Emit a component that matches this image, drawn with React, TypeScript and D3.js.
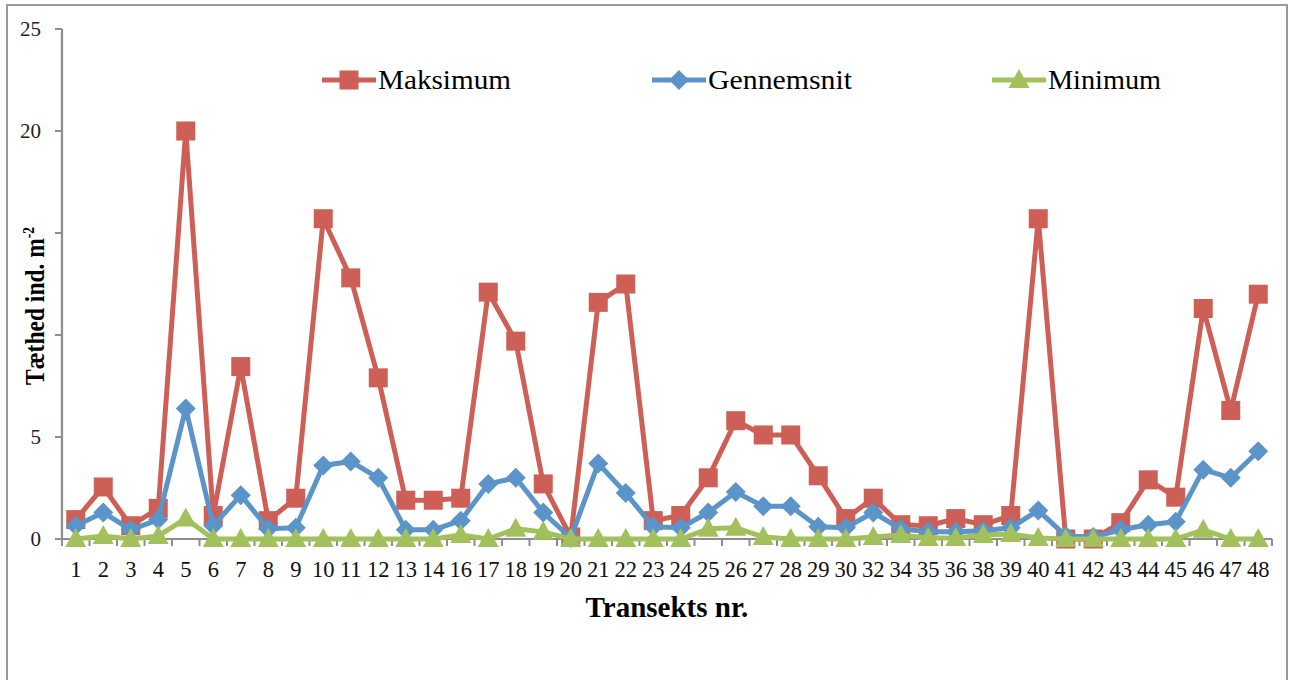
import React from "react";
import * as d3 from "d3";

const categories = ["1","2","3","4","5","6","7","8","9","10","11","12","13","14","16","17","18","19","20","21","22","23","24","25","26","27","28","29","30","32","34","35","36","38","39","40","41","42","43","44","45","46","47","48"];
const maksimum = [0.95,2.55,0.65,1.5,20,1.15,8.45,0.9,2.0,15.7,12.8,7.9,1.9,1.9,2.0,12.1,9.7,2.7,0.1,11.6,12.5,0.9,1.15,3.0,5.8,5.1,5.1,3.1,1.0,2.0,0.7,0.65,1.0,0.7,1.15,15.7,0,0,0.8,2.9,2.05,11.3,6.3,12.0];
const gennemsnit = [0.65,1.3,0.45,0.95,6.4,0.65,2.15,0.5,0.55,3.6,3.8,3.0,0.45,0.45,0.9,2.7,3.0,1.3,0.05,3.7,2.25,0.6,0.55,1.3,2.3,1.6,1.6,0.6,0.55,1.3,0.5,0.35,0.35,0.4,0.55,1.4,0.15,0.1,0.45,0.7,0.85,3.4,3.0,4.3];
const minimum = [0,0.15,0,0.15,1.0,0,0,0,0,0,0,0,0,0,0.2,0,0.5,0.35,0,0,0,0,0,0.5,0.55,0.1,0,0,0,0.1,0.2,0.05,0.05,0.2,0.25,0.05,0,0,0,0,0,0.45,0,0];
const yTicks = [0, 5, 10, 15, 20, 25];
const seriesNames = ["Maksimum", "Gennemsnit", "Minimum"];

const W = 1292, H = 680;
const colors = ["#cd5f56", "#5b94c9", "#a2c15c"];
const axisColor = "#8e8e8e";

function Marker({ kind, x, y, color }: { kind: number; x: number; y: number; color: string }) {
  if (kind === 0) return <rect x={x - 9.5} y={y - 9.5} width={19} height={19} fill={color} />;
  if (kind === 1) return <path d={`M${x},${y - 10}L${x + 10},${y}L${x},${y + 10}L${x - 10},${y}Z`} fill={color} />;
  return <path d={`M${x},${y - 11}L${x + 10.5},${y + 8}L${x - 10.5},${y + 8}Z`} fill={color} />;
}

export default function App() {
  const x = d3.scaleBand<string>().domain(categories).range([62, 1272]);
  const y = d3.scaleLinear().domain([0, 25]).range([539, 29]);
  const cx = (c: string) => (x(c) as number) + x.bandwidth() / 2;
  const series = [maksimum, gennemsnit, minimum];
  const line = d3.line<number>().x((_, i) => cx(categories[i])).y((v) => y(v));
  const boundaries = d3.range(categories.length + 1).map((i) => 62 + i * x.bandwidth());
  const legendX = [322, 652, 992];
  const legendW = [133, 144, 113];

  return (
    <div style={{ position: "fixed", left: 0, top: 0 }}>
      <svg width={W} height={H} style={{ display: "block", background: "#fff" }}>
        <rect x={7} y={5} width={1280} height={690} fill="#fff" stroke="#9a9a9a" strokeWidth={2} />
        {/* y axis */}
        <line x1={62} y1={29} x2={62} y2={539} stroke={axisColor} strokeWidth={2.2} />
        {yTicks.map((t) => (
          <g key={t}>
            <line x1={55} x2={62} y1={y(t)} y2={y(t)} stroke={axisColor} strokeWidth={2} />
            <text x={41} y={y(t)} dy="0.35em" textAnchor="end" fontFamily="Liberation Serif" fontSize={21} fill="#222">{t}</text>
          </g>
        ))}
        {/* x axis */}
        <line x1={62} y1={539} x2={1272} y2={539} stroke={axisColor} strokeWidth={2.2} />
        {boundaries.map((b, i) => (
          <line key={i} x1={b} x2={b} y1={539} y2={546} stroke={axisColor} strokeWidth={2} />
        ))}
        {categories.map((c) => (
          <text key={c} x={cx(c)} y={577} textAnchor="middle" fontFamily="Liberation Serif" fontSize={22.5} fill="#111">{c}</text>
        ))}
        <text x={667} y={617} textAnchor="middle" fontFamily="Liberation Serif" fontWeight="bold" fontSize={29} fill="#000">Transekts nr.</text>
        {/* y title */}
        <rect x={16} y={222} width={32} height={166} fill="#fff" />
        <text transform="translate(44,385) rotate(-90)" fontFamily="Liberation Serif" fontWeight="bold" fontSize={28} fill="#000" textLength={158} lengthAdjust="spacingAndGlyphs">
          Tæthed ind. m<tspan dy="-10" fontSize={16}>-2</tspan>
        </text>
        {/* series */}
        {series.map((s, k) => (
          <g key={k}>
            <path d={line(s) || ""} fill="none" stroke={colors[k]} strokeWidth={5} strokeLinejoin="round" />
            {s.map((v, i) => (
              <Marker key={i} kind={k} x={cx(categories[i])} y={y(v)} color={colors[k]} />
            ))}
          </g>
        ))}
        {/* legend */}
        {seriesNames.map((n, k) => (
          <g key={n}>
            <line x1={legendX[k]} x2={legendX[k] + 54} y1={80} y2={80} stroke={colors[k]} strokeWidth={5} />
            <Marker kind={k} x={legendX[k] + 27} y={80} color={colors[k]} />
            <text x={legendX[k] + 56} y={89} fontFamily="Liberation Serif" fontSize={27} fill="#000" textLength={legendW[k]} lengthAdjust="spacingAndGlyphs">{n}</text>
          </g>
        ))}
      </svg>
    </div>
  );
}
